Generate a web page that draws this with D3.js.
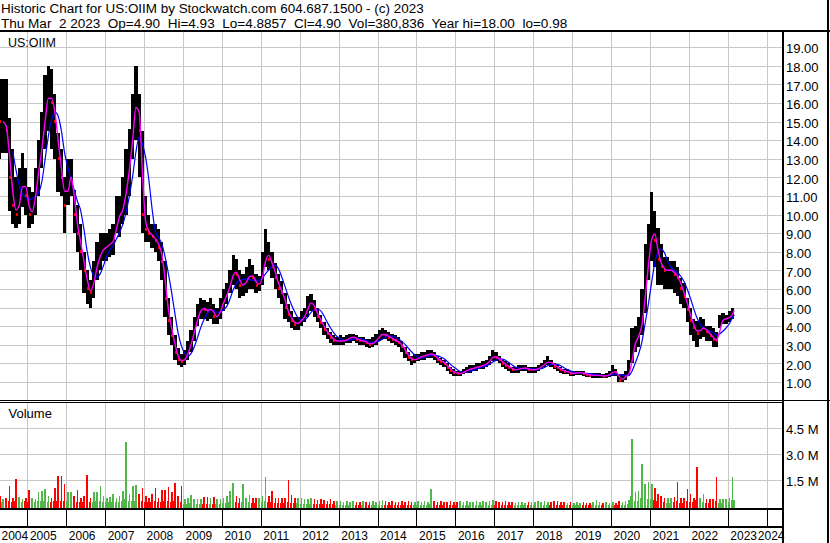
<!DOCTYPE html>
<html>
<head>
<meta charset="utf-8">
<script src="https://cdn.jsdelivr.net/npm/d3@7"></script>
<style>
body { margin: 0; background: #fff; }
svg { display: block; font-family: "Liberation Sans", Arial, sans-serif; }
text { white-space: pre; fill: #000; }
</style>
</head>
<body>
<div id="chart"></div>
<script>

// monthly bars, Apr 2004 .. Mar 2023
var firstMonth = new Date(2004, 3, 1);
var lastDay = new Date(2023, 2, 3);

var hi = [
    17.3,17.3,17.3,15.2,13.5,12.0,12.5,13.3,12.5,
    11.5,11.2,12.5,14.0,15.5,17.5,18.0,17.8,16.5,14.4,13.5,12.0,
    13.0,13.0,11.3,10.5,9.5,8.0,7.0,6.5,7.5,8.5,9.0,9.0,
    9.0,9.2,9.5,11.0,11.0,12.0,13.5,14.6,16.5,18.0,16.5,14.5,
    11.0,10.0,9.5,9.5,9.2,8.5,7.5,5.5,4.5,3.5,2.8,2.5,
    2.7,3.2,3.8,4.5,5.2,5.5,5.4,5.3,5.5,5.2,5.0,5.5,
    6.0,6.3,7.0,7.8,7.6,7.0,6.8,7.2,7.6,7.3,6.8,6.7,
    8.0,9.2,8.5,8.0,7.4,6.8,6.4,5.8,5.2,4.8,4.5,4.5,
    4.8,5.0,5.6,5.7,5.4,5.0,4.6,4.2,3.9,3.7,3.5,3.4,
    3.5,3.4,3.5,3.6,3.6,3.5,3.4,3.4,3.3,3.3,3.4,3.6,
    3.8,3.9,3.8,3.7,3.6,3.5,3.4,3.2,2.9,2.6,2.4,2.5,
    2.5,2.6,2.6,2.7,2.7,2.6,2.4,2.3,2.2,2.0,1.8,1.7,
    1.6,1.6,1.7,1.8,1.9,1.9,2.0,2.0,2.1,2.2,2.4,2.7,
    2.6,2.4,2.2,2.1,2.0,1.8,1.8,1.9,1.9,1.9,1.8,1.8,
    1.8,1.9,2.0,2.2,2.4,2.2,2.0,1.9,1.8,1.7,1.7,1.6,
    1.6,1.6,1.6,1.6,1.5,1.5,1.5,1.5,1.5,1.45,1.5,1.6,
    1.9,1.7,1.4,1.4,1.6,2.2,3.9,4.0,4.5,6.0,8.4,9.5,
    11.2,10.2,9.3,8.4,7.7,7.7,7.5,7.5,7.2,6.6,6.3,5.5,
    5.0,4.4,4.3,4.5,4.4,4.0,4.0,3.9,3.7,4.6,4.7,4.6,
    4.8,4.97,4.93
];
var lo = [
    13.0,13.3,13.3,10.2,9.5,9.3,9.5,10.4,10.0,
    9.3,9.5,10.0,11.0,12.5,13.5,14.5,13.5,13.0,11.2,11.0,9.0,
    10.5,11.0,9.0,8.0,7.0,5.8,5.2,5.0,5.5,6.5,7.0,7.5,
    7.5,7.7,7.8,9.0,8.8,9.5,10.0,11.0,13.0,14.0,12.0,9.0,
    8.5,8.5,8.2,8.0,7.5,6.5,4.5,3.5,3.0,2.2,1.9,1.8,
    1.9,2.2,2.6,3.2,4.0,4.4,4.4,4.3,4.4,4.1,4.1,4.4,
    4.8,5.2,5.8,6.2,6.0,5.5,5.6,5.8,6.0,6.0,5.8,5.9,
    6.2,7.2,7.0,6.6,6.0,5.5,5.2,4.4,4.2,3.9,3.8,3.8,
    4.0,4.2,4.5,4.8,4.5,4.2,3.9,3.5,3.3,3.1,3.0,3.0,
    3.0,3.0,3.1,3.1,3.2,3.1,3.0,3.0,2.9,2.8,2.9,3.0,
    3.2,3.3,3.3,3.2,3.1,3.0,2.9,2.6,2.3,2.1,1.9,2.0,
    2.1,2.2,2.2,2.3,2.3,2.2,2.0,1.9,1.8,1.6,1.4,1.3,
    1.3,1.3,1.4,1.5,1.5,1.6,1.6,1.7,1.7,1.8,1.9,2.1,
    2.1,2.0,1.8,1.7,1.6,1.5,1.5,1.5,1.6,1.6,1.5,1.5,
    1.5,1.6,1.7,1.8,1.9,1.8,1.7,1.6,1.5,1.4,1.4,1.3,
    1.3,1.35,1.35,1.3,1.25,1.25,1.2,1.2,1.2,1.2,1.2,1.25,
    1.3,1.3,0.98,1.0,1.1,1.3,2.0,2.6,2.9,3.5,4.7,6.5,
    7.5,7.2,6.2,6.2,6.0,6.0,6.0,5.8,5.6,5.2,5.0,4.2,
    3.5,3.2,2.9,3.3,3.4,3.2,3.2,2.9,2.9,3.9,4.1,4.1,
    4.2,4.4,4.89
];
var cl = [
    15.0,15.0,14.5,12.0,10.5,10.0,11.0,12.0,11.0,
    10.0,10.3,11.5,13.0,14.0,16.0,16.5,16.0,15.0,13.0,12.0,10.5,
    12.0,12.0,10.0,9.0,8.0,7.0,6.0,5.8,6.8,7.5,8.0,8.2,
    8.3,8.5,8.6,9.8,10.0,10.5,11.8,13.0,15.0,16.5,14.5,10.0,
    9.2,9.0,8.8,8.6,8.2,7.5,5.5,4.3,3.5,2.6,2.2,2.1,
    2.3,2.7,3.3,4.0,4.6,5.0,4.9,4.8,5.0,4.5,4.5,5.0,
    5.5,5.8,6.4,7.0,6.8,6.2,6.2,6.5,6.8,6.6,6.2,6.3,
    7.0,8.0,7.6,7.2,6.6,6.0,5.8,5.0,4.6,4.3,4.1,4.2,
    4.4,4.6,5.2,5.3,4.9,4.5,4.2,3.8,3.6,3.4,3.2,3.2,
    3.2,3.2,3.3,3.4,3.4,3.3,3.2,3.2,3.1,3.0,3.1,3.3,
    3.5,3.6,3.5,3.4,3.3,3.2,3.1,2.9,2.6,2.3,2.2,2.2,
    2.3,2.4,2.4,2.5,2.5,2.4,2.2,2.1,2.0,1.8,1.6,1.5,
    1.45,1.45,1.55,1.65,1.7,1.75,1.8,1.85,1.9,2.0,2.2,2.4,
    2.3,2.2,2.0,1.9,1.8,1.65,1.65,1.7,1.75,1.75,1.65,1.65,
    1.65,1.75,1.85,2.0,2.1,2.0,1.85,1.75,1.65,1.55,1.55,1.45,
    1.45,1.5,1.5,1.45,1.4,1.35,1.35,1.35,1.35,1.3,1.35,1.4,
    1.6,1.5,1.1,1.2,1.35,1.5,2.8,3.3,3.6,4.5,6.5,8.0,
    9.3,8.6,7.6,7.2,7.0,7.0,7.0,6.8,6.6,6.0,5.6,4.9,
    4.3,3.9,3.6,3.9,3.9,3.7,3.5,3.3,3.2,4.2,4.4,4.4,
    4.5,4.8,4.9
];

// volume in thousands: busiest day of the month, and the usual day
var volMax = [
    600,450,500,1200,500,1570,550,450,500,
    940,500,400,840,900,1000,600,500,1040,1770,1720,1300,
    850,800,600,940,500,600,1800,500,850,850,1170,600,
    500,550,700,500,600,900,3730,700,1200,1230,700,1070,
    600,500,700,1060,500,950,940,1100,850,1350,600,1150,
    450,500,650,400,450,400,550,550,500,550,400,450,
    500,600,900,1360,600,500,1260,500,650,500,500,500,
    600,1670,600,900,500,500,500,500,1530,650,500,500,
    500,450,400,500,400,350,400,350,300,400,300,300,
    300,250,300,250,300,250,250,300,250,250,300,250,
    300,350,300,250,300,250,250,300,250,300,250,250,
    300,250,300,250,1000,300,250,300,250,250,300,250,
    250,300,250,300,250,250,300,250,300,250,300,350,
    300,250,250,300,250,250,200,250,250,200,250,250,
    250,300,250,300,250,250,300,300,250,250,200,250,
    200,250,200,250,200,200,250,350,250,200,250,200,
    250,200,300,250,300,350,3870,800,900,2440,1300,1400,
    1290,1040,700,600,500,500,500,550,1380,500,500,1000,
    700,500,2290,500,700,400,400,400,1710,400,400,400,
    500,1710,380
];
var volAvg = [
    300,250,300,280,250,300,250,250,280,
    250,250,230,280,300,300,250,230,280,320,300,300,
    280,260,250,250,220,250,300,230,260,280,300,250,
    230,240,250,230,240,280,400,280,300,320,280,300,
    260,240,250,280,220,260,280,280,250,300,230,260,
    150,160,180,150,160,140,150,160,150,160,140,150,
    180,200,250,280,220,200,250,200,220,200,180,200,
    220,300,230,240,200,200,190,180,260,200,180,170,
    160,150,150,160,140,130,140,120,110,120,110,100,
    90,80,90,80,90,80,80,90,80,80,90,80,
    90,100,90,80,90,80,80,90,80,90,80,80,
    90,80,90,80,150,90,80,90,80,80,90,80,
    80,90,80,90,80,80,90,80,90,80,90,100,
    90,80,80,90,80,80,70,80,80,70,80,80,
    80,90,80,90,80,80,90,90,80,80,70,80,
    70,80,70,80,70,70,80,100,80,70,80,70,
    80,70,100,90,100,120,600,300,320,500,400,420,
    400,350,280,250,220,200,200,220,300,200,200,300,
    250,220,350,200,230,180,180,180,300,180,180,180,
    220,350,380
];

var priceTicks = d3.range(1, 20);
var volTicks = [1.5e6, 3.0e6, 4.5e6];
var titleLines = [
    "Historic Chart for US:OIIM by Stockwatch.com 604.687.1500 - (c) 2023",
    "Thu Mar  2 2023  Op=4.90  Hi=4.93  Lo=4.8857  Cl=4.90  Vol=380,836  Year hi=18.00  lo=0.98"
];
var titleWidths = [423, 567];

var W = 830, H = 543;
var plotRight = 782;

var months = d3.timeMonth.range(firstMonth, new Date(2023, 3, 1));
var bars = months.map(function(d, i) {
    var end = i < months.length - 1 ? months[i + 1] : lastDay;
    return {start: d, end: end, mid: new Date((+d + +end) / 2),
        hi: hi[i], lo: lo[i], cl: cl[i],
        vMax: volMax[i] * 1000, vAvg: volAvg[i] * 1000,
        up: i > 0 && cl[i] >= cl[i - 1]};
});

// moving average of the closes over n months
function sma(n) {
    var out = [];
    for (var i = n - 1; i < bars.length; i++) {
        out.push({date: bars[i].mid, v: d3.mean(cl.slice(i - n + 1, i + 1))});
    }
    return out;
}

var x = d3.scaleTime()
    .domain([new Date(2004, 0, 1), new Date(2024, 0, 1)])
    .range([-11.6, 766.7]);
var y = d3.scaleLinear().domain([0, 19]).range([400.5, 47.1]);
var yv = d3.scaleLinear().domain([0, 4.5e6]).range([506.3, 428.3]);

var svg = d3.select("#chart").append("svg")
    .attr("width", W)
    .attr("height", H);

svg.append("rect").attr("width", W).attr("height", H).attr("fill", "#fff");

// header, squeezed/stretched horizontally to the width it has in the original
svg.selectAll("text.title")
    .data(titleLines)
    .enter().append("text")
    .attr("class", "title")
    .attr("x", 0)
    .attr("y", 0)
    .style("font-size", "13.3px")
    .text(function(d) { return d; })
    .each(function(d, i) {
        var len = this.getComputedTextLength();
        var sx = len > 0 ? titleWidths[i] / len : 1;
        d3.select(this).attr("transform",
            "translate(1," + (13 + i * 14.5) + ") scale(" + sx + ",1)");
    });

var defs = svg.append("defs");
defs.append("clipPath").attr("id", "clipPrice")
    .append("rect").attr("x", 0).attr("y", 32).attr("width", plotRight).attr("height", 368);
defs.append("clipPath").attr("id", "clipVol")
    .append("rect").attr("x", 0).attr("y", 403).attr("width", plotRight).attr("height", 105);

// grid
var years = d3.timeYear.range(new Date(2005, 0, 1), new Date(2025, 0, 1));
var grid = svg.append("g")
    .attr("stroke", "#c8c8c8")
    .attr("shape-rendering", "crispEdges");

grid.selectAll("line.hp")
    .data(priceTicks)
    .enter().append("line")
    .attr("x1", 0).attr("x2", plotRight)
    .attr("y1", function(d) { return Math.round(y(d)) + 0.5; })
    .attr("y2", function(d) { return Math.round(y(d)) + 0.5; });

grid.selectAll("line.hv")
    .data(volTicks)
    .enter().append("line")
    .attr("x1", 0).attr("x2", plotRight)
    .attr("y1", function(d) { return Math.round(yv(d)) + 0.5; })
    .attr("y2", function(d) { return Math.round(yv(d)) + 0.5; });

grid.selectAll("line.vp")
    .data(years)
    .enter().append("line")
    .attr("x1", function(d) { return Math.round(x(d)) + 0.5; })
    .attr("x2", function(d) { return Math.round(x(d)) + 0.5; })
    .attr("y1", 32).attr("y2", 400);

grid.selectAll("line.vv")
    .data(years)
    .enter().append("line")
    .attr("x1", function(d) { return Math.round(x(d)) + 0.5; })
    .attr("x2", function(d) { return Math.round(x(d)) + 0.5; })
    .attr("y1", 403).attr("y2", 508);

svg.append("text").attr("x", 8).attr("y", 46.5).style("font-size", "12.5px").text("US:OIIM");
svg.append("text").attr("x", 8.5).attr("y", 418).style("font-size", "13px").text("Volume");

// price bars
var price = svg.append("g").attr("clip-path", "url(#clipPrice)");

price.selectAll("rect.bar")
    .data(bars)
    .enter().append("rect")
    .attr("class", "bar")
    .attr("x", function(d) { return x(d.start); })
    .attr("width", function(d) { return x(d.end) - x(d.start); })
    .attr("y", function(d) { return y(d.hi); })
    .attr("height", function(d) { return Math.max(1, y(d.lo) - y(d.hi)); })
    .attr("fill", "#000")
    .attr("shape-rendering", "crispEdges");

// red close marks on down months
price.selectAll("rect.down")
    .data(bars.filter(function(d) { return !d.up; }))
    .enter().append("rect")
    .attr("class", "down")
    .attr("x", function(d) { return x(d.end) - 2; })
    .attr("width", 2)
    .attr("y", function(d) { return y(d.cl) - 1.5; })
    .attr("height", 3)
    .attr("fill", "#ff0000")
    .attr("shape-rendering", "crispEdges");

var line = d3.line()
    .x(function(d) { return x(d.date); })
    .y(function(d) { return y(d.v); })
    .curve(d3.curveMonotoneX);

price.append("path")
    .datum(sma(5))
    .attr("d", line)
    .attr("fill", "none")
    .attr("stroke", "#0000ff")
    .attr("stroke-width", 1.2);

price.append("path")
    .datum(sma(2))
    .attr("d", line)
    .attr("fill", "none")
    .attr("stroke", "#ff00ff")
    .attr("stroke-width", 1.4);

// volume
var vol = svg.append("g")
    .attr("clip-path", "url(#clipVol)")
    .attr("shape-rendering", "crispEdges");

function volColor(d) { return d.up ? "#4fb848" : "#ff0000"; }

vol.selectAll("rect.avg")
    .data(bars)
    .enter().append("rect")
    .attr("class", "avg")
    .attr("x", function(d) { return x(d.start); })
    .attr("width", function(d) { return Math.max(1, x(d.end) - x(d.start) - 1); })
    .attr("y", function(d) { return yv(d.vAvg); })
    .attr("height", function(d) { return 508 - yv(d.vAvg); })
    .attr("fill", volColor);

vol.selectAll("rect.max")
    .data(bars)
    .enter().append("rect")
    .attr("class", "max")
    .attr("x", function(d) { return x(d.mid) - 0.75; })
    .attr("width", 1.6)
    .attr("y", function(d) { return yv(d.vMax); })
    .attr("height", function(d) { return 508 - yv(d.vMax); })
    .attr("fill", volColor);

// frame lines
var frame = svg.append("g").attr("fill", "#000").attr("shape-rendering", "crispEdges");
frame.append("rect").attr("x", 0).attr("y", 30).attr("width", W).attr("height", 2);
frame.append("rect").attr("x", 0).attr("y", 400).attr("width", W).attr("height", 1);
frame.append("rect").attr("x", 0).attr("y", 402).attr("width", plotRight).attr("height", 1);
frame.append("rect").attr("x", 0).attr("y", 508).attr("width", plotRight).attr("height", 2);
frame.append("rect").attr("x", 0).attr("y", 526).attr("width", plotRight).attr("height", 2);
frame.append("rect").attr("x", plotRight).attr("y", 31).attr("width", 2).attr("height", H - 31);
frame.append("rect").attr("x", 827).attr("y", 0).attr("width", 2).attr("height", H);

// right axes
var yAxis = d3.axisRight(y)
    .tickValues(priceTicks)
    .tickFormat(d3.format(".2f"))
    .tickSize(0)
    .tickPadding(4);

var gy = svg.append("g")
    .attr("transform", "translate(" + plotRight + ",0)")
    .attr("font-family", null).attr("font-size", null)
    .call(yAxis);
gy.select(".domain").remove();
gy.selectAll("text").attr("dy", "0.45em").style("font-size", "13px").attr("fill", "#000");

var vAxis = d3.axisRight(yv)
    .tickValues(volTicks)
    .tickFormat(function(d) { return d3.format(".1f")(d / 1e6) + " M"; })
    .tickSize(0)
    .tickPadding(4);

var gv = svg.append("g")
    .attr("transform", "translate(" + plotRight + ",0)")
    .attr("font-family", null).attr("font-size", null)
    .call(vAxis);
gv.select(".domain").remove();
gv.selectAll("text").attr("dy", "0.4em").style("font-size", "13px").attr("fill", "#000");

// year axis: tick row + labels
var xAxis = d3.axisBottom(x)
    .tickValues(d3.timeYear.range(new Date(2004, 0, 1), new Date(2025, 0, 1)))
    .tickFormat(d3.timeFormat("%Y"))
    .tickSize(16);

var gx = svg.append("g")
    .attr("transform", "translate(0,510)")
    .attr("font-family", null).attr("font-size", null)
    .call(xAxis);
gx.select(".domain").remove();
gx.selectAll("line").attr("stroke", "#000").attr("shape-rendering", "crispEdges");
gx.selectAll("text")
    .attr("y", 29.5)
    .attr("dy", 0)
    .attr("text-anchor", "start")
    .attr("fill", "#000")
    .style("font-size", "12px")
    .attr("x", function(d) {
        var tx = x(d);
        var lx = tx + 2;
        var w = this.getComputedTextLength();
        if (lx < 1) lx = 1;
        if (lx + w > 784) lx = 784 - w;
        return lx - tx;
    });

</script>
</body>
</html>
